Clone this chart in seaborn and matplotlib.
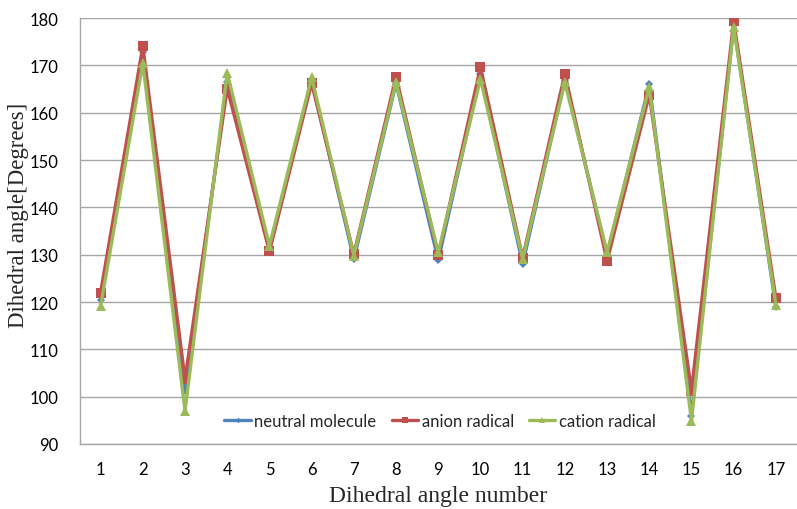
import matplotlib
matplotlib.use("Agg")
import matplotlib.pyplot as plt
import seaborn as sns
import pandas as pd

angle_numbers = list(range(1, 18))
neutral = [120.4, 172.8, 101.3, 166.5, 131.0, 166.8, 129.0, 166.2, 128.8, 168.2, 128.0, 167.0, 130.0, 166.0, 96.0, 178.5, 118.9]
anion = [122.0, 174.0, 103.7, 165.1, 130.7, 166.2, 130.1, 167.6, 129.9, 169.6, 129.4, 168.2, 128.7, 163.8, 101.3, 179.3, 120.8]
cation = [119.1, 170.5, 97.0, 168.4, 131.9, 167.5, 129.8, 166.4, 130.5, 167.1, 129.1, 166.4, 130.5, 165.4, 94.9, 178.0, 119.4]
series_names = ["neutral molecule", "anion radical", "cation radical"]
y_ticks = [90, 100, 110, 120, 130, 140, 150, 160, 170, 180]

df = pd.DataFrame({
    "angle": angle_numbers * 3,
    "value": neutral + anion + cation,
    "series": [series_names[0]] * 17 + [series_names[1]] * 17 + [series_names[2]] * 17,
})

sns.set_theme(style="white")
plt.rcParams["font.family"] = ["Lato", "DejaVu Sans"]

fig = plt.figure(figsize=(7.97, 5.10), dpi=100)
ax_left = 79.5 / 797
ax_w = 1 - ax_left
ax = fig.add_axes([ax_left, 1 - 445 / 510, ax_w, (445 - 19) / 510])

colors = {"neutral molecule": "#4F81BD", "anion radical": "#C0504D", "cation radical": "#9BBB59"}
markers = {"neutral molecule": "D", "anion radical": "s", "cation radical": "^"}
msizes = {"neutral molecule": 4, "anion radical": 6.5, "cation radical": 7}

for name in series_names:
    sub = df[df["series"] == name]
    sns.lineplot(data=sub, x="angle", y="value", ax=ax, color=colors[name],
                 marker=markers[name], markersize=msizes[name], markeredgewidth=0,
                 linewidth=2.4, label=name, legend=False)

ax.set_xlim(0.5, 17.5)
ax.set_ylim(90, 180)
ax.set_xticks(angle_numbers)
ax.set_xticklabels([str(a) for a in angle_numbers], fontsize=12)
ax.set_yticks(y_ticks)
ax.set_yticklabels([str(v) for v in y_ticks], fontsize=12)
ax.tick_params(axis="both", length=0)
ax.tick_params(axis="x", pad=12)
ax.tick_params(axis="y", pad=15)
for lab in ax.get_xticklabels() + ax.get_yticklabels():
    lab.set_color("#000000")

ax.yaxis.grid(True, color="#A6A6A6", linewidth=1)
ax.xaxis.grid(False)
for side in ["top", "right"]:
    ax.spines[side].set_visible(False)
for side in ["left", "bottom"]:
    ax.spines[side].set_color("#A6A6A6")
    ax.spines[side].set_linewidth(1)

ax.set_xlabel("Dihedral angle number", fontfamily="Liberation Serif", fontsize=17, labelpad=6)
ax.set_ylabel("Dihedral angle[Degrees]", fontfamily="Liberation Serif", fontsize=16.5, labelpad=0)
ax.yaxis.set_label_coords(-50 / 717.5, 0.54)

handles, labels = ax.get_legend_handles_labels()
leg = ax.legend(handles, labels, loc="center",
                bbox_to_anchor=((440 - 79.5) / 717.5, 1 - (422 - 19) / 426),
                bbox_transform=ax.transAxes, ncol=3, frameon=True, facecolor="white", edgecolor="white",
                fontsize=12, handlelength=1.6, handletextpad=0.2, columnspacing=0.9, borderpad=0.2,
                markerscale=0.7)
leg.get_frame().set_linewidth(0)

fig.savefig("out.png", dpi=100)
